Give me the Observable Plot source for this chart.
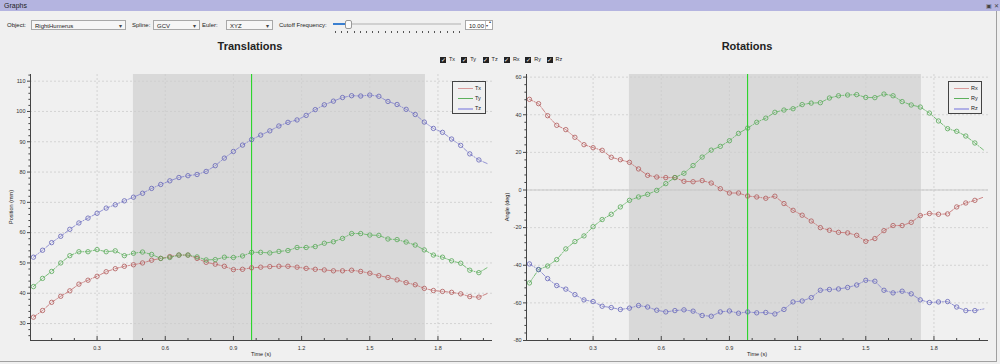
<!DOCTYPE html>
<html><head><meta charset="utf-8">
<script src="https://cdn.jsdelivr.net/npm/d3@7"></script>
<script src="https://cdn.jsdelivr.net/npm/@observablehq/plot@0.6"></script>
<style>
body{margin:0;width:1000px;height:364px;background:#f0f0f0;font-family:"Liberation Sans",Arial,sans-serif;position:relative;overflow:hidden;color:#222}
.abs{position:absolute}
#titlebar{left:0;top:0;width:1000px;height:11px;background:#b4b4e0;font-size:7px;line-height:11px;text-indent:4px}
#frame{left:0;top:11px;width:997px;height:351px;border-right:1px solid #a0a0a0;border-bottom:1px solid #a0a0a0;box-sizing:border-box}
.lbl{font-size:6px;top:22px}
.combo{top:20px;height:10px;border:1px solid #a8a8a8;background:#f6f6f6;font-size:6px;line-height:10px;text-indent:3px;box-sizing:border-box}
.combo.dd:after{content:"▾";position:absolute;right:3px;top:0;font-size:6px;color:#444}
.spin:after{content:"";position:absolute;right:6px;top:0;width:0;height:8px;border-left:1px solid #c0c0c0}
.title{font-size:11px;font-weight:bold;top:40px;transform:translateX(-50%);white-space:nowrap}
.chk{top:56px;font-size:5.5px;line-height:7px;white-space:nowrap}
.chk span.b{display:inline-block;width:6px;height:6px;background:#222;color:#fff;font-size:6px;line-height:6px;text-align:center;vertical-align:middle;margin-right:3px}
.legend{top:81px;width:34px;height:33px;border:1px solid #444;box-sizing:border-box;background:#f0f0f0;font-size:5.5px}
.legend div{position:absolute;left:0;height:10px;width:32px}
.legend i{position:absolute;left:5px;top:5px;width:15px}
.legend b{position:absolute;left:22px;top:2px;font-weight:normal}
.chart{top:60px}
</style></head><body>
<div id="titlebar" class="abs">Graphs</div>
<div class="abs" style="left:986px;top:2px;font-size:6px;color:#444">▣ ✕</div>
<div id="frame" class="abs"></div>
<div class="abs lbl" style="left:7px">Object:</div>
<div class="abs combo dd" style="left:31px;width:95px">RightHumerus</div>
<div class="abs lbl" style="left:132px">Spline:</div>
<div class="abs combo dd" style="left:153px;width:47px">GCV</div>
<div class="abs lbl" style="left:202px">Euler:</div>
<div class="abs combo dd" style="left:226px;width:47px">XYZ</div>
<div class="abs lbl" style="left:279px">Cutoff Frequency:</div>
<div class="abs" style="left:333px;top:23px;width:128px;height:2px;background:#d0d0d0"></div>
<div class="abs" style="left:333px;top:23px;width:14px;height:2px;background:#3a7fd0"></div>
<div class="abs" style="left:345px;top:20px;width:5px;height:7px;background:#fafafa;border:1px solid #999;border-radius:2px"></div>
<div id="sticks" class="abs" style="left:335px;top:31px;width:126px;height:2px"></div>
<div class="abs combo spin" style="left:465px;width:28px;background:#fff">10.00<span style="position:absolute;right:1px;top:-1px;font-size:4px;line-height:4px;color:#444">▴<br>▾</span></div>
<div class="abs title" style="left:250px">Translations</div>
<div class="abs title" style="left:747px">Rotations</div>
<div id="checks"></div>
<div id="left" class="abs chart" style="left:0"></div>
<div id="right" class="abs chart" style="left:500px"></div>
<div class="abs legend" style="left:452px">
 <div style="top:1px"><i style="border-top:1px solid #d89a9a"></i><b>Tx</b></div>
 <div style="top:11px"><i style="border-top:1px solid #5cb05c"></i><b>Ty</b></div>
 <div style="top:21px"><i style="border-top:2px solid #b0b0e6"></i><b>Tz</b></div>
</div>
<div class="abs legend" style="left:948px">
 <div style="top:1px"><i style="border-top:1px solid #d89a9a"></i><b>Rx</b></div>
 <div style="top:11px"><i style="border-top:1px solid #5cb05c"></i><b>Ry</b></div>
 <div style="top:21px"><i style="border-top:2px solid #b0b0e6"></i><b>Rz</b></div>
</div>
<script>
// ---- data ----
const time = [0.02,0.06,0.10,0.14,0.18,0.22,0.26,0.30,0.34,0.38,0.42,0.46,0.50,0.54,0.58,0.62,0.66,0.70,0.74,0.78,
  0.82,0.86,0.90,0.94,0.98,1.02,1.06,1.10,1.14,1.18,1.22,1.26,1.30,1.34,1.38,1.42,1.46,1.50,1.54,1.58,
  1.62,1.66,1.70,1.74,1.78,1.82,1.86,1.90,1.94,1.98];
const tailTime = 2.02;
const Tx = [32.1,34.3,37.0,39.0,40.8,43.0,44.3,45.6,47.1,48.1,48.9,49.4,50.0,50.9,51.5,52.1,52.6,52.6,51.5,50.2,
  49.6,48.9,47.8,47.9,48.4,48.6,48.8,48.9,48.9,48.6,48.2,47.9,47.7,47.4,47.4,47.6,47.2,46.6,45.8,45.2,
  44.4,43.5,42.8,41.6,40.9,40.6,40.3,39.8,38.9,38.7];
const Ty = [42.2,44.9,47.2,50.0,52.4,53.7,53.7,54.4,53.7,54.0,52.4,53.2,53.6,52.8,51.5,51.8,52.6,52.6,52.0,51.0,
  51.1,51.9,51.8,52.3,53.5,53.5,53.3,53.8,54.1,55.1,55.1,55.4,56.5,57.0,58.1,59.7,59.7,59.2,59.1,57.9,
  57.7,56.9,55.9,54.3,52.6,51.9,50.7,49.9,47.6,46.8];
const Tz = [51.9,54.2,56.7,58.8,61.1,63.2,64.8,66.4,68.1,69.2,70.5,71.7,73.0,74.6,75.9,77.1,78.2,78.8,79.2,80.2,
  82.1,84.6,86.8,88.9,90.7,92.2,93.6,95.2,96.4,97.2,98.7,100.6,102.2,103.4,104.6,105.2,105.1,105.4,105.0,103.3,
  102.3,100.7,99.0,96.5,94.4,93.1,90.9,88.8,86.0,84.0];
const Ttail = [40.0, 48.6, 82.7];
const Rx = [48.2,45.9,39.5,34.4,32.1,28.0,24.1,22.5,21.1,17.4,16.1,14.7,11.2,7.8,6.9,6.6,6.6,4.6,4.4,5.0,
  3.7,0.7,-1.6,-1.6,-3.2,-3.7,-4.4,-3.3,-7.2,-10.8,-13.4,-16.5,-20.0,-21.4,-22.5,-22.8,-24.1,-27.3,-25.8,-21.6,
  -18.9,-18.9,-17.2,-13.6,-12.5,-12.9,-12.7,-9.0,-6.9,-5.5];
const Ry = [-49.4,-42.3,-40.4,-37.0,-31.3,-27.4,-24.4,-19.5,-15.7,-12.9,-9.0,-5.5,-3.7,-2.3,-0.2,3.4,6.6,8.9,13.0,17.5,
  21.2,23.2,26.2,30.1,32.9,36.0,38.2,41.3,42.5,43.2,45.4,46.2,46.4,48.9,50.1,50.5,50.7,49.2,49.1,51.0,
  50.1,47.0,45.2,44.1,40.9,36.7,32.6,31.2,28.7,25.0];
const Rz = [-39.3,-42.3,-47.1,-50.8,-52.7,-55.6,-58.4,-59.3,-61.8,-62.5,-63.5,-62.8,-61.4,-62.2,-63.9,-64.8,-64.1,-63.7,-64.4,-66.7,
  -67.1,-64.8,-64.3,-65.5,-64.8,-65.3,-65.1,-65.9,-63.5,-59.5,-59.0,-57.2,-53.3,-52.9,-52.6,-51.8,-50.5,-48.0,-48.5,-53.3,
  -54.7,-53.8,-55.2,-58.4,-59.8,-59.5,-59.3,-62.2,-64.1,-64.1];
const Rtail = [-3.7, 21.1, -63.2];
const transNames = ["Tx","Ty","Tz"];
const rotNames = ["Rx","Ry","Rz"];
const selection = [0.46, 1.745];
const cursorTime = 0.98;
const xTickValues = [0.3,0.6,0.9,1.2,1.5,1.8];
const transTicks = [30,40,50,60,70,80,90,100,110];
const rotTicks = [-80,-60,-40,-20,0,20,40,60];
const xDomain = [0.007, 2.04];

const lineColors = ["#c87878","#6cb86c","#8a8ad0"];
const dotColors = ["#b05a5a","#58a858","#6464b8"];

// slider ticks
const st = document.getElementById("sticks");
for (let i = 0; i < 21; i++) { const d = document.createElement("div"); d.className="abs"; d.style.cssText=`left:${i*6.2}px;top:0;width:1px;height:2px;background:#555`; st.appendChild(d); }
// checkboxes
const checksEl = document.getElementById("checks");
transNames.concat(rotNames).forEach((n,i)=>{
  const d = document.createElement("div"); d.className="abs chk"; d.style.left=(440+i*21.3)+"px";
  d.innerHTML = `<span class="b">✓</span>${n}`; checksEl.appendChild(d);
});

function chart(el, names, vals, tails, yDomain, yTicks, yMinorStep, yLabel, marginLeft, marginRight, zero) {
  const rows = [];
  names.forEach((n,s)=>{
    vals[s].forEach((v,i)=>rows.push({name:n, s, t:time[i], v, dot:true}));
    rows.push({name:n, s, t:tailTime, v:tails[s], dot:false});
  });
  const W=500,H=300,mt=14,mb=20;
  const ppu = (H-mt-mb)/(yDomain[1]-yDomain[0]);
  const pxX = (W-marginLeft-marginRight)/(xDomain[1]-xDomain[0]);
  const xMinor = d3.range(0.1, 2.04, 0.1).filter(d=>Math.abs(d*10/3-Math.round(d*10/3))>0.01);
  const yMinor = d3.range(Math.ceil(yDomain[0]/yMinorStep)*yMinorStep, yDomain[1], yMinorStep).filter(d=>!yTicks.includes(Math.round(d)));
  const y0 = yDomain[0];
  const marks = [
    Plot.rect([selection], {x1:d=>d[0], x2:d=>d[1], y1:yDomain[0], y2:yDomain[1], fill:"#d9d9d9"}),
    Plot.ruleX(xTickValues, {stroke:"#cdcdcd", strokeDasharray:"2,2", strokeWidth:0.8}),
    Plot.ruleY(yTicks, {stroke:"#cdcdcd", strokeDasharray:"2,2", strokeWidth:0.8}),
  ];
  if (zero) marks.push(Plot.ruleY([0], {stroke:"#c8c8c8", strokeWidth:1.2}));
  marks.push(
    Plot.ruleX([cursorTime], {stroke:"#19d419", strokeWidth:1}),
    Plot.line(rows, {x:"t", y:"v", z:"name", stroke:d=>lineColors[d.s], strokeWidth:0.9, strokeDasharray:"4,1.5,1,1.5"}),
    Plot.dot(rows.filter(d=>d.dot), {x:"t", y:"v", r:2.2, stroke:d=>dotColors[d.s], strokeWidth:0.8, fill:"none"}),
    Plot.ruleY([y0], {stroke:"#444"}),
    Plot.ruleX([xDomain[0]], {stroke:"#444"}),
    Plot.ruleX(xTickValues, {y1:y0, y2:y0+4/ppu, stroke:"#444"}),
    Plot.ruleX(xMinor, {y1:y0, y2:y0+2/ppu, stroke:"#444"}),
    Plot.ruleY(yTicks, {x1:xDomain[0]-3/pxX, x2:xDomain[0], stroke:"#444"}),
    Plot.ruleY(yMinor, {x1:xDomain[0]-1.6/pxX, x2:xDomain[0], stroke:"#444"}),
    Plot.text(xTickValues, {x:d=>d, y:y0, text:d=>d.toFixed(1), dy:8, fontSize:5.5, fill:"#333"}),
    Plot.text(yTicks, {x:xDomain[0], y:d=>d, text:d=>String(d), dx:-5, textAnchor:"end", fontSize:5.5, fill:"#333"})
  );
  const svg = Plot.plot({
    width:W, height:H, marginLeft, marginRight, marginTop:mt, marginBottom:mb,
    style:{background:"transparent", fontFamily:"Liberation Sans, Arial, sans-serif", overflow:"visible"},
    x:{domain:xDomain, axis:null},
    y:{domain:yDomain, axis:null},
    marks
  });
  el.appendChild(svg);
  // axis labels
  const xl = document.createElement("div"); xl.className="abs"; xl.style.cssText=`left:${marginLeft+(W-marginLeft-marginRight)/2}px;top:${H-9}px;font-size:5.5px;transform:translateX(-50%);white-space:nowrap`; xl.textContent="Time (s)"; el.appendChild(xl);
  const yl = document.createElement("div"); yl.className="abs"; yl.style.cssText=`left:${marginLeft-19}px;top:${mt+(H-mt-mb)/2}px;font-size:5.5px;transform:translate(-50%,-50%) rotate(-90deg);white-space:nowrap`; yl.textContent=yLabel; el.appendChild(yl);
}
chart(document.getElementById("left"), transNames, [Tx,Ty,Tz], Ttail, [24.4,112.2], transTicks, 2, "Position (mm)", 30, 8, false);
chart(document.getElementById("right"), rotNames, [Rx,Ry,Rz], Rtail, [-80,61.4], rotTicks, 4, "Angle (deg)", 26, 12, true);
</script>
</body></html>
